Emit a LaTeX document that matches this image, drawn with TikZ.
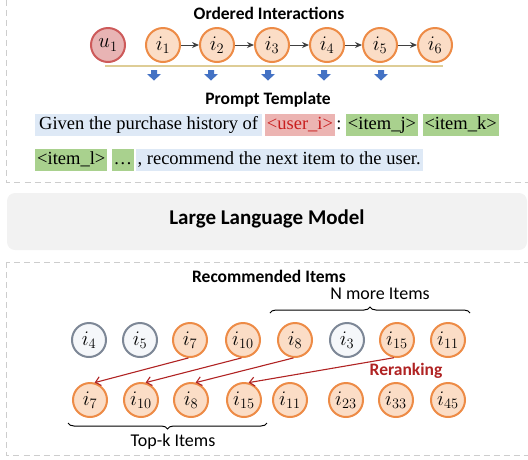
\documentclass[tikz,border=0pt]{standalone}
\usepackage{fontspec}
\setmainfont{Liberation Serif}
\setsansfont{Carlito}
\usetikzlibrary{positioning,arrows.meta,decorations.pathreplacing}

\definecolor{itemborder}{RGB}{237,139,70}
\definecolor{itemfill}{RGB}{251,221,198}
\definecolor{userborder}{RGB}{205,90,90}
\definecolor{userfill}{RGB}{232,180,180}
\definecolor{otherborder}{RGB}{125,135,150}
\definecolor{otherfill}{RGB}{245,247,250}
\definecolor{promptblue}{RGB}{222,233,246}
\definecolor{promptred}{RGB}{236,180,178}
\definecolor{userred}{RGB}{200,30,30}
\definecolor{promptgreen}{RGB}{169,209,142}
\definecolor{arrowblue}{RGB}{68,114,196}
\definecolor{boxgray}{RGB}{205,205,205}
\definecolor{llmgray}{RGB}{242,242,242}
\definecolor{timeline}{RGB}{222,205,150}
\definecolor{rerankred}{RGB}{176,35,35}

\tikzset{
  item/.style={circle, draw=itemborder, fill=itemfill, line width=2pt,
    minimum size=34pt, inner sep=0pt, font=\fontsize{19.5}{20}\selectfont},
  user/.style={item, draw=userborder, fill=userfill},
  other/.style={item, draw=otherborder, fill=otherfill},
  title/.style={font=\sffamily\bfseries\fontsize{17.5}{20}\selectfont},
  note/.style={font=\sffamily\fontsize{18}{20}\selectfont},
  block/.style={inner xsep=2pt, inner ysep=2pt, text height=14pt, text depth=4.5pt,
    font=\fontsize{18.5}{20}\selectfont},
  seqarrow/.style={-{Stealth[length=7pt,width=6pt]}, line width=1pt, black!75},
  rerank/.style={-{Straight Barb[length=5pt,width=9pt]}, line width=1.1pt, rerankred},
  bracket/.style={decorate, decoration={brace, amplitude=6pt}, line width=1pt},
  section/.style={draw=boxgray, dashed, dash pattern=on 6pt off 4pt, line width=0.8pt}
}

\begin{document}
\begin{tikzpicture}[x=1pt, y=-1pt]
    \clip (0,0) rectangle (528,459);
    % Frames
    \draw[section] (6.5,-10) rectangle (540,182);
    \fill[llmgray, rounded corners=8pt] (7,193) rectangle (527,250);
    \draw[section] (6.5,262) rectangle (540,455);
    % Ordered interactions
    \node[title] (ordered) at (269,13) {Ordered Interactions};
    \node[user] (u1) at (108,45) {$u_{1}$};
    \foreach \x/\n in {163/1, 217/2, 272/3, 327/4, 380/5, 435/6}
        \node[item] (t\n) at (\x,45) {$i_{\n}$};
    \foreach \a/\b in {1/2, 2/3, 3/4, 4/5, 5/6}
        \draw[seqarrow] (t\a) -- (t\b);
    \draw[timeline, line width=1.5pt] (105,66) -- (443,66);
    \foreach \x in {154, 211, 268, 324, 381}
        \fill[arrowblue] (\x-3,70) -- ++(6,0) -- ++(0,4) -- ++(4,0)
            -- (\x,80.5) -- (\x-7,74) -- ++(4,0) -- cycle;
    % Prompt template
    \node[title] (prompt) at (268,100) {Prompt Template};
    \node[block, fill=promptblue, inner xsep=4pt, anchor=west] (given) at (35,125) {Given the purchase history of};
    \node[block, fill=promptred, text=userred, right=2.5pt of given] (useri) {<user\_i>};
    \node[block, inner xsep=1pt, right=0pt of useri] (colon) {:};
    \node[block, fill=promptgreen, right=3pt of colon] (itemj) {<item\_j>};
    \node[block, fill=promptgreen, right=4pt of itemj] (itemk) {<item\_k>};
    \node[block, fill=promptgreen, anchor=west] (iteml) at (35,160) {<item\_l>};
    \node[block, fill=promptgreen, right=4pt of iteml] (dots) {\dots};
    \node[block, fill=promptblue, right=1pt of dots] (rest) {, recommend the next item to the user.};
    % LLM
    \node[font=\sffamily\bfseries\fontsize{21}{24}\selectfont] (llm) at (267,219) {Large Language Model};
    % Recommended items
    \node[title] (recommended) at (269,276) {Recommended Items};
    \foreach \x/\n/\s/\lab in {89/1/other/4, 140/2/other/5, 190/3/item/7, 243/4/item/10,
                               295/5/item/8, 347/6/other/3, 397/7/item/15, 448/8/item/11}
        \node[\s] (r\n) at (\x,340) {$i_{\lab}$};
    \foreach \x/\n/\lab in {90/1/7, 141/2/10, 191/3/8, 244/4/15,
                            290/5/11, 346/6/23, 396/7/33, 448/8/45}
        \node[item] (k\n) at (\x,400) {$i_{\lab}$};
    \coordinate (nl) at (270,313);
    \coordinate (nr) at (470,313);
    \draw[bracket] (nl) -- (nr);
    \node[note] (nmore) at (380,294) {N more Items};
    % Reranking
    \draw[rerank] (r3.-95) -- (k1.75);
    \draw[rerank] (r4.-95) -- (k2.75);
    \draw[rerank] (r5.-95) -- (k3.75);
    \draw[rerank] (r7.-100) -- (k4.75);
    \node[title, text=rerankred] (reranking) at (406,371) {Reranking};
    \coordinate (tr) at (267,423);
    \coordinate (tl) at (68,423);
    \draw[bracket] (tr) -- (tl);
    \node[note] (topk) at (173,442) {Top-k Items};
\end{tikzpicture}
\end{document}
